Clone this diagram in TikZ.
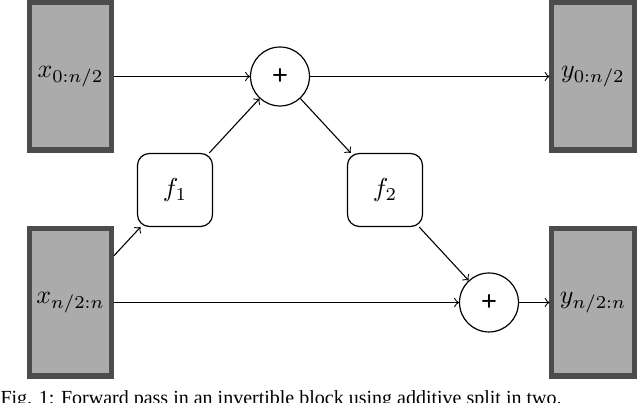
\documentclass[tikz,border=0pt]{standalone}
\usepackage{fontspec}
\newfontfamily\capfont{Liberation Serif}
\newfontfamily\plusfont{Liberation Sans}
\begin{document}
\begin{tikzpicture}[x=0.385pt,y=-0.385pt,
  io/.style={draw=black!70, fill=black!33, line width=1.93pt,
    minimum width=31.6pt, minimum height=56.6pt, inner sep=0pt},
  fn/.style={draw, rounded corners=4.6pt, line width=0.46pt,
    minimum width=28.9pt, minimum height=28.1pt, inner sep=0pt},
  sum/.style={draw, circle, line width=0.46pt, minimum size=22.7pt,
    inner sep=0pt, font=\plusfont\fontsize{10.5}{12}\selectfont},
  conn/.style={->, line width=0.42pt}]
\useasboundingbox (0,0) rectangle (640,403);
\node[io] (x1) at (70.5,76.5) {$x_{0:n/2}$};
\node[io] (x2) at (70.5,302.5) {$x_{n/2:n}$};
\node[io] (y1) at (593,76.5) {$y_{0:n/2}$};
\node[io] (y2) at (593,302.5) {$y_{n/2:n}$};
\node[fn] (f1) at (175,190) {$f_1$};
\node[fn] (f2) at (385,190) {$f_2$};
\node[sum] (p1) at (280,76.5) {+};
\node[sum] (p2) at (489,302.5) {+};
\draw[conn] (x1) -- (p1);
\draw[conn] (p1) -- (y1);
\draw[conn] (x2) -- (f1);
\draw[conn] (f1) -- (p1);
\draw[conn] (p1) -- (f2);
\draw[conn] (f2) -- (p2);
\draw[conn] (x2) -- (p2);
\draw[conn] (p2) -- (y2);
\node[anchor=base west, inner sep=0pt, font=\capfont\fontsize{7.7}{9}\selectfont]
  (cap) at (0,405) {Fig. 1: Forward pass in an invertible block using additive split in two.};
\end{tikzpicture}
\end{document}
